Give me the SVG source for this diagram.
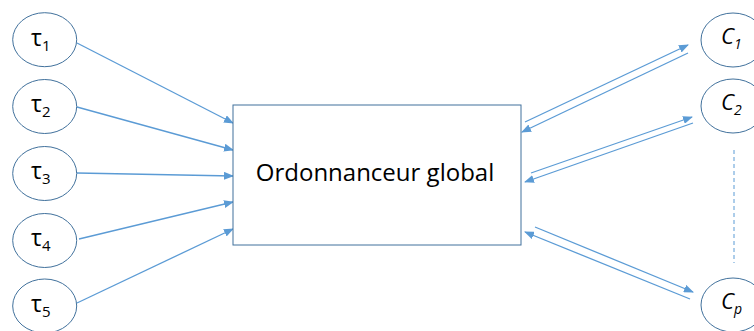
<svg xmlns="http://www.w3.org/2000/svg" width="754" height="331" viewBox="0 0 754 331">
<style>
.node{fill:#ffffff;stroke:#41719c;stroke-width:1}
.lbl{font-family:"Open Sans","Liberation Sans",sans-serif;fill:#000000}
.tau{font-size:23px}
.sub{font-size:15px}
.ci{font-family:"Open Sans","Liberation Sans",sans-serif;font-style:italic;font-size:22px;fill:#000000}
.cs{font-size:14px}
.conn{stroke:#5b9bd5;stroke-width:1.3;fill:none}
</style>
<defs>
<marker id="ah" markerUnits="userSpaceOnUse" markerWidth="10" markerHeight="8" refX="9" refY="4" orient="auto">
<path d="M0,0 L10,4 L0,8 Z" fill="#5b9bd5"/>
</marker>
</defs>
<rect width="754" height="331" fill="#ffffff"/>
<g id="connectors">
<line class="conn" x1="77" y1="43" x2="233" y2="123" marker-end="url(#ah)"/>
<line class="conn" x1="77" y1="107" x2="233" y2="150" marker-end="url(#ah)"/>
<line class="conn" x1="77" y1="173" x2="233" y2="176" marker-end="url(#ah)"/>
<line class="conn" x1="79" y1="239" x2="233" y2="202" marker-end="url(#ah)"/>
<line class="conn" x1="77" y1="303" x2="233" y2="229" marker-end="url(#ah)"/>
<line class="conn" x1="525" y1="122" x2="688" y2="45" marker-end="url(#ah)"/>
<line class="conn" x1="688" y1="53" x2="522" y2="132" marker-end="url(#ah)"/>
<line class="conn" x1="531" y1="173" x2="692" y2="117" marker-end="url(#ah)"/>
<line class="conn" x1="693" y1="123" x2="525" y2="182" marker-end="url(#ah)"/>
<line class="conn" x1="535" y1="227" x2="693" y2="292" marker-end="url(#ah)"/>
<line class="conn" x1="690" y1="299" x2="525" y2="232" marker-end="url(#ah)"/>
<line x1="734" y1="150" x2="734" y2="263" stroke="#5b9bd5" stroke-width="1" stroke-dasharray="4,3"/>
</g>
<g id="tau1"><ellipse class="node" cx="44.7" cy="39.7" rx="32" ry="27"/><text class="lbl tau" x="31" y="45.5">τ<tspan class="sub" dy="5">1</tspan></text></g>
<g id="tau2"><ellipse class="node" cx="44.7" cy="106.5" rx="32" ry="27"/><text class="lbl tau" x="31" y="112.3">τ<tspan class="sub" dy="5">2</tspan></text></g>
<g id="tau3"><ellipse class="node" cx="44.7" cy="173.5" rx="32" ry="27"/><text class="lbl tau" x="31" y="179.3">τ<tspan class="sub" dy="5">3</tspan></text></g>
<g id="tau4"><ellipse class="node" cx="44.7" cy="240.5" rx="32" ry="27"/><text class="lbl tau" x="31" y="246.3">τ<tspan class="sub" dy="5">4</tspan></text></g>
<g id="tau5"><ellipse class="node" cx="44.7" cy="306" rx="32" ry="27"/><text class="lbl tau" x="31" y="311.8">τ<tspan class="sub" dy="5">5</tspan></text></g>
<g id="scheduler"><rect class="node" x="233" y="105" width="288" height="140"/><text class="lbl" x="375" y="180.5" font-size="24" text-anchor="middle">Ordonnanceur global</text></g>
<g id="c1"><ellipse class="node" cx="733" cy="40" rx="32" ry="27"/><text class="ci" x="721" y="43.5">C<tspan class="cs" dy="5">1</tspan></text></g>
<g id="c2"><ellipse class="node" cx="733" cy="106" rx="32" ry="27"/><text class="ci" x="721" y="109.5">C<tspan class="cs" dy="5">2</tspan></text></g>
<g id="cp"><ellipse class="node" cx="733" cy="305" rx="32" ry="27"/><text class="ci" x="721" y="308.5">C<tspan class="cs" dy="5">p</tspan></text></g>
</svg>
